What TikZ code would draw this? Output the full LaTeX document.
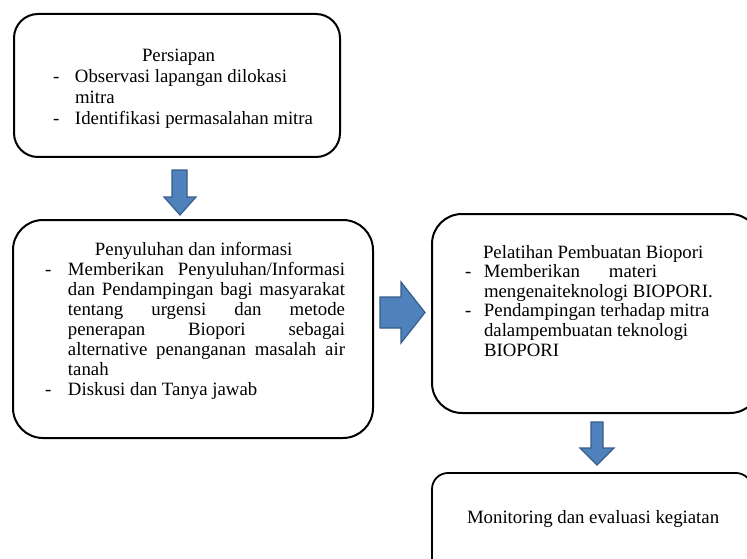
\documentclass[tikz,border=0pt]{standalone}
\usepackage{fontspec}
\setmainfont{Liberation Serif}
\definecolor{arrowfill}{HTML}{4F81BD}
\definecolor{arrowline}{HTML}{385D8A}
\begin{document}
\begin{tikzpicture}[x=1pt,y=-1pt,
  box/.style={draw=black, line width=2pt, inner sep=0pt, outer sep=0pt, rectangle},
  txt/.style={anchor=base west, inner sep=0pt, outer sep=0pt},
  blockarrow/.style={fill=arrowfill, draw=arrowline, line width=1.2pt, line join=miter}]
\useasboundingbox (0,0) rectangle (747,559);
\clip (0,0) rectangle (747,559);
\fill[white] (0,0) rectangle (747,559);
% boxes
\node[box, rounded corners=24pt, minimum width=326pt, minimum height=143pt] (b1) at (177,85.5) {};
\node[box, rounded corners=30pt, minimum width=360pt, minimum height=218pt] (b2) at (193,329) {};
\node[box, rounded corners=30pt, minimum width=328pt, minimum height=199pt] (b3) at (596,313.5) {};
\node[box, rounded corners=16pt, line width=1.8pt, minimum width=320pt, minimum height=107pt] (b4) at (592,526.5) {};
% texts
\node[txt, font=\fontsize{18.8}{21}\selectfont] (t1) at (53,62) {\parbox[t]{300pt}{%
\hspace*{89pt}Persiapan\\
\makebox[22pt][l]{-}Observasi lapangan dilokasi\\
\hspace*{22pt}mitra\\
\makebox[22pt][l]{-}Identifikasi permasalahan mitra}};
\node[txt, font=\fontsize{18.8}{20}\selectfont] (t2) at (45,255) {\parbox[t]{300pt}{%
\hspace*{50pt}Penyuluhan dan informasi\\
\makebox[23pt][l]{-}\makebox[277pt][s]{Memberikan Penyuluhan/Informasi}\\
\hspace*{23pt}\makebox[277pt][s]{dan Pendampingan bagi masyarakat}\\
\hspace*{23pt}\makebox[277pt][s]{tentang urgensi dan metode}\\
\hspace*{23pt}\makebox[277pt][s]{penerapan Biopori sebagai}\\
\hspace*{23pt}\makebox[277pt][s]{alternative penanganan masalah air}\\
\hspace*{23pt}tanah\\
\makebox[23pt][l]{-}Diskusi dan Tanya jawab}};
\node[txt, font=\fontsize{18.8}{19.6}\selectfont] (t3) at (465,258) {\parbox[t]{270pt}{%
\hspace*{18pt}Pelatihan Pembuatan Biopori\\
\makebox[19pt][l]{-}\makebox[173pt][s]{Memberikan materi}\\
\hspace*{19pt}mengenaiteknologi BIOPORI.\\
\makebox[19pt][l]{-}Pendampingan terhadap mitra\\
\hspace*{19pt}dalampembuatan teknologi\\
\hspace*{19pt}BIOPORI}};
\node[txt, font=\fontsize{18.8}{21}\selectfont] (t4) at (467,523) {Monitoring dan evaluasi kegiatan};
% block arrows
\draw[blockarrow] (172,170) -- (187,170) -- (187,197) -- (196,197) -- (180,215) -- (164,197) -- (172,197) -- cycle;
\draw[blockarrow] (380,297) -- (401,297) -- (401,282) -- (425,312.5) -- (401,343) -- (401,328) -- (380,328) -- cycle;
\draw[blockarrow] (591,422) -- (603,422) -- (603,448) -- (614,448) -- (597,465) -- (580,448) -- (591,448) -- cycle;
\end{tikzpicture}
\end{document}
